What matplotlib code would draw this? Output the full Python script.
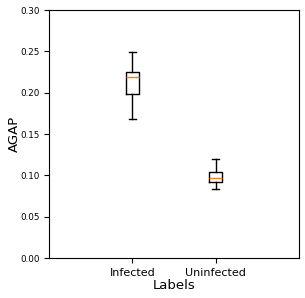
import numpy as np
import matplotlib
matplotlib.use("Agg")
import matplotlib.pyplot as plt

labels = ["Infected", "Uninfected"]
whislo = [0.168, 0.083]
q1 = [0.198, 0.092]
med = [0.219, 0.097]
q3 = [0.225, 0.104]
whishi = [0.249, 0.120]

stats = []
for i in range(len(labels)):
    stats.append({"label": labels[i], "whislo": whislo[i], "q1": q1[i],
                  "med": med[i], "q3": q3[i], "whishi": whishi[i], "fliers": []})

fig = plt.figure(figsize=(3.05, 2.98), dpi=100)
ax = fig.add_axes([49/305, 40/298, 250/305, 248/298])
ax.bxp(stats, positions=[1, 2], widths=0.16, showfliers=False)
ax.set_xlim(0, 3)
ax.set_ylim(0, 0.30)
ax.set_yticks(np.arange(0, 0.31, 0.05))
ax.tick_params(axis="y", labelsize=6.3, pad=3)
ax.tick_params(axis="x", labelsize=8)
ax.set_xlabel("Labels", fontsize=9.5, labelpad=1)
ax.set_ylabel("AGAP", fontsize=9.5)
ax.yaxis.set_label_coords(-0.112, 0.5)
plt.savefig("out.png", dpi=100)
